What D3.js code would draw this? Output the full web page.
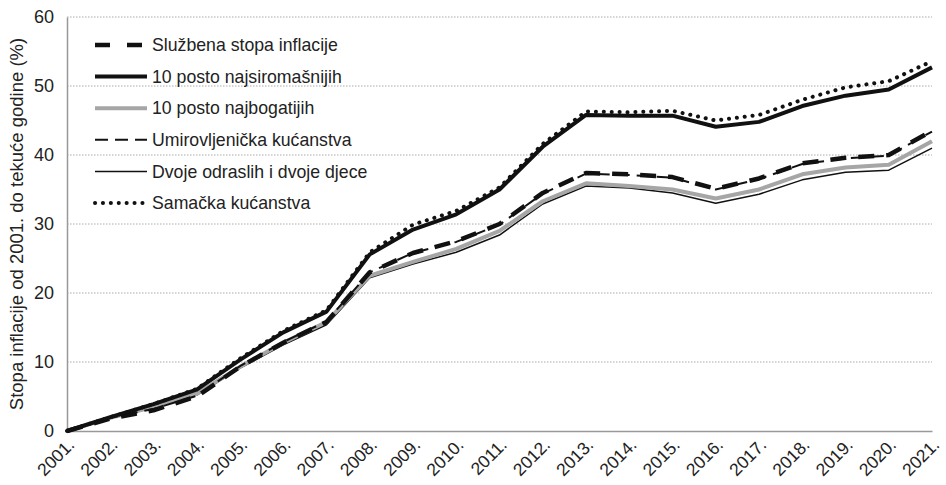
<!DOCTYPE html>
<html><head><meta charset="utf-8">
<script src="https://cdn.jsdelivr.net/npm/d3@7"></script>
<style>body{margin:0;background:#fff}svg{display:block;font-family:"Liberation Sans",Arial,sans-serif}</style>
</head><body><svg id="c" width="946" height="485"></svg>
<script>
const years = [2001,2002,2003,2004,2005,2006,2007,2008,2009,2010,2011,2012,2013,2014,2015,2016,2017,2018,2019,2020,2021];
const yearLabels = years.map(y => y + ".");
const yTicks = [0,10,20,30,40,50,60];
const sluzbena       = [0,1.8,3.0,5.0,9.3,12.8,15.8,23.0,25.8,27.5,30.0,34.5,37.4,37.2,36.8,35.1,36.6,38.8,39.6,40.0,43.5];
const najsiromasnijih= [0,2.0,3.9,6.0,10.3,14.3,17.3,25.6,29.2,31.4,35.0,41.2,45.8,45.7,45.7,44.1,44.8,47.1,48.6,49.5,52.7];
const najbogatijih   = [0,1.9,3.5,5.4,9.3,12.8,15.8,22.5,24.5,26.4,29.0,33.3,35.9,35.5,35.0,33.7,35.0,37.2,38.2,38.6,42.0];
const umirovljenicka = [0,1.9,3.2,5.1,9.4,12.9,15.9,23.0,25.8,27.4,29.9,34.4,37.3,37.1,36.7,35.0,36.5,38.7,39.5,39.9,43.4];
const dvoje          = [0,1.8,3.4,5.2,9.1,12.5,15.4,22.2,24.2,25.9,28.4,32.9,35.5,35.2,34.5,33.0,34.3,36.4,37.5,37.8,41.0];
const samacka        = [0,2.0,3.9,6.1,10.5,14.5,17.5,25.9,29.9,31.9,35.3,41.6,46.3,46.2,46.4,45.0,45.8,48.0,49.8,50.7,53.6];
const seriesNames = ["Službena stopa inflacije","10 posto najsiromašnijih","10 posto najbogatijih","Umirovljenička kućanstva","Dvoje odraslih i dvoje djece","Samačka kućanstva"];

const styles = [
  {color:"#111", w:4.5, dash:"16,12", cap:"butt"},
  {color:"#111", w:4, dash:null, cap:"butt"},
  {color:"#a6a6a6", w:4, dash:null, cap:"butt"},
  {color:"#111", w:2, dash:"13,7", cap:"butt"},
  {color:"#111", w:1.5, dash:null, cap:"butt"},
  {color:"#111", w:4, dash:"0.1,7.8", cap:"round"}
];
const data = [sluzbena, najsiromasnijih, najbogatijih, umirovljenicka, dvoje, samacka];

const svg = d3.select("#c");
const m = {l:67, r:932, t:17, b:431};
const x = d3.scalePoint().domain(years).range([m.l, m.r]);
const y = d3.scaleLinear().domain([0,60]).range([m.b, m.t]);

// gridlines
svg.append("g").selectAll("line").data(yTicks.filter(d=>d>0)).join("line")
  .attr("x1", m.l).attr("x2", m.r).attr("y1", d=>y(d)).attr("y2", d=>y(d))
  .attr("stroke", "#aaa").attr("stroke-width", 1).attr("stroke-dasharray", "1.5,1.5");

// y axis
const ya = svg.append("g").attr("transform", `translate(${m.l},0)`)
  .call(d3.axisLeft(y).tickValues(yTicks).tickSize(0).tickPadding(13));
ya.select(".domain").attr("stroke", "#999").attr("stroke-width", 1.5);
ya.selectAll("text").attr("font-size", 18).attr("fill", "#222").attr("font-family", "Liberation Sans, Arial, sans-serif");

// x axis
const xa = svg.append("g").attr("transform", `translate(0,${m.b})`)
  .call(d3.axisBottom(x).tickSize(0).tickFormat((d,i)=>yearLabels[i]));
xa.select(".domain").attr("stroke", "#999").attr("stroke-width", 1.5);
xa.selectAll("text").attr("font-size", 17.5).attr("fill", "#222")
  .attr("font-family", "Liberation Sans, Arial, sans-serif")
  .attr("text-anchor", "end").attr("dy", null).attr("y", 0)
  .attr("transform", "translate(8,15) rotate(-45)");

// y title
svg.append("text").attr("transform", `translate(23,${(m.t+m.b)/2}) rotate(-90)`)
  .attr("text-anchor", "middle").attr("font-size", 18.5).attr("fill", "#222")
  .text("Stopa inflacije od 2001. do tekuće godine (%)");

// lines
const line = d3.line().x((d,i)=>x(years[i])).y(d=>y(d));
const order = [4,2,3,0,1,5];
order.forEach(k => {
  const s = styles[k];
  svg.append("path").datum(data[k]).attr("d", line).attr("fill","none")
    .attr("stroke", s.color).attr("stroke-width", s.w)
    .attr("stroke-dasharray", s.dash).attr("stroke-linecap", s.cap).attr("stroke-linejoin","round");
});

// legend
const lg = svg.append("g");
seriesNames.forEach((n,k) => {
  const yy = 45 + k*31.6;
  const s = styles[k];
  lg.append("line").attr("x1", 95).attr("x2", k===5?143:147).attr("y1", yy).attr("y2", yy)
    .attr("stroke", s.color).attr("stroke-width", s.w)
    .attr("stroke-dasharray", k===0 ? "15,17" : s.dash).attr("stroke-linecap", s.cap);
  lg.append("text").attr("x", 152).attr("y", yy).attr("dy", "0.35em")
    .attr("font-size", 17.7).attr("fill", "#222").text(n);
});
</script></body></html>
